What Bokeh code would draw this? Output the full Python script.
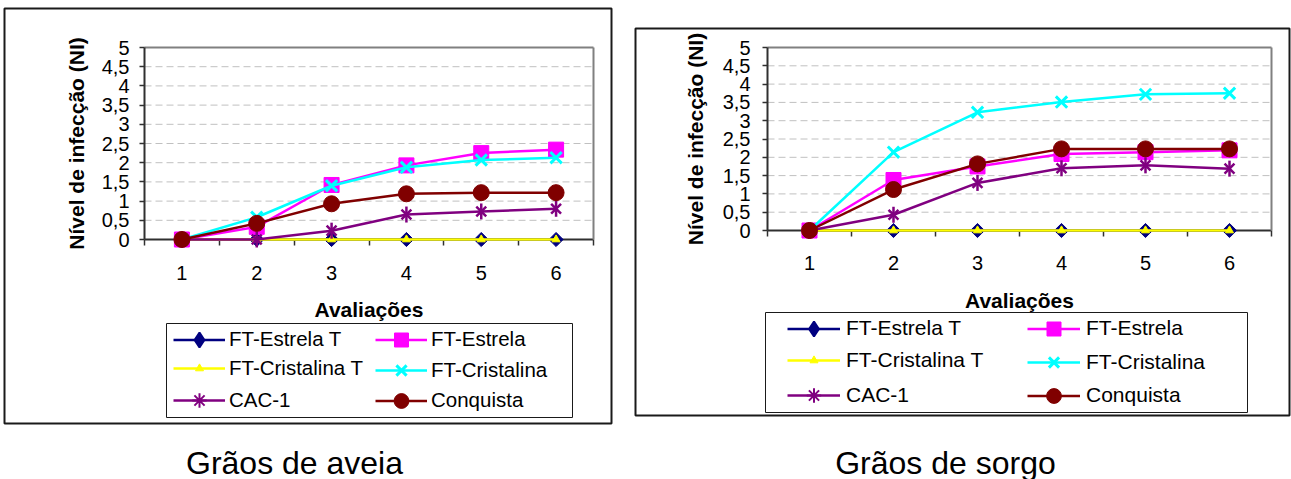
import math
from bokeh.plotting import figure
from bokeh.models import (Range1d, LinearAxis, FixedTicker, CustomJSTickFormatter,
                          Legend, LegendItem, Label, BoxAnnotation)
from bokeh.embed import file_html
from bokeh.resources import INLINE

# ---------------- data ----------------
avaliacoes = [1, 2, 3, 4, 5, 6]
x_tick_labels = ["1", "2", "3", "4", "5", "6"]
y_ticks = [0, 0.5, 1, 1.5, 2, 2.5, 3, 3.5, 4, 4.5, 5]
y_tick_labels = ["0", "0,5", "1", "1,5", "2", "2,5", "3", "3,5", "4", "4,5", "5"]

series_names = ["FT-Estrela T", "FT-Estrela", "FT-Cristalina T",
                "FT-Cristalina", "CAC-1", "Conquista"]

aveia_ft_estrela_t = [0, 0, 0, 0, 0, 0]
aveia_ft_estrela = [0, 0.33, 1.42, 1.93, 2.25, 2.34]
aveia_ft_cristalina_t = [0, 0, 0, 0, 0, 0]
aveia_ft_cristalina = [0, 0.58, 1.40, 1.88, 2.07, 2.13]
aveia_cac1 = [0, 0, 0.23, 0.65, 0.73, 0.80]
aveia_conquista = [0, 0.42, 0.93, 1.19, 1.22, 1.22]

sorgo_ft_estrela_t = [0, 0, 0, 0, 0, 0]
sorgo_ft_estrela = [0, 1.38, 1.75, 2.09, 2.14, 2.19]
sorgo_ft_cristalina_t = [0, 0, 0, 0, 0, 0]
sorgo_ft_cristalina = [0, 2.14, 3.23, 3.51, 3.72, 3.75]
sorgo_cac1 = [0, 0.43, 1.30, 1.70, 1.78, 1.69]
sorgo_conquista = [0, 1.12, 1.82, 2.23, 2.23, 2.23]

y_title = "Nível de infecção (NI)"
x_title = "Avaliações"
caption_aveia = "Grãos de aveia"
caption_sorgo = "Grãos de sorgo"

# ---------------- styles / layout ----------------
W, H = 1291, 479
FONT = "Liberation Sans"
AX = "#303030"
BORDER = "#808080"
BOXC = "#1a1a1a"
X_LO, X_HI = 0.5, 6.5
Y_LO, Y_HI = 0, 5

# colour, plot markers (marker, size, angle, line width), legend marker override
STYLE = {
    "FT-Estrela T": ("#000080", [("square", 10, math.pi / 4, 1)], "diamond"),
    "FT-Estrela": ("#FF00FF", [("square", 15, 0, 1)], None),
    "FT-Cristalina T": ("#FFFF00", [("triangle", 8, 0, 1)], None),
    "FT-Cristalina": ("#00FFFF", [("x", 16, 0, 3)], None),
    "CAC-1": ("#800080", [("x", 14, 0, 2.5), ("dash", 16, math.pi / 2, 2.5)], "asterisk"),
    "Conquista": ("#800000", [("circle", 16, 0, 1)], None),
}
# legend glyph box height (marker drawn at 0.4 of it)
LEG_G = {"FT-Estrela T": 37, "FT-Estrela": 35, "FT-Cristalina T": 20,
         "FT-Cristalina": 36, "CAC-1": 36, "Conquista": 37}


def lin_range(v0, px0, v1, px1, total):
    s = (v1 - v0) / (px1 - px0)
    return Range1d(v0 - px0 * s, v0 + (total - px0) * s)


def fmt(tvals, tlabels):
    return CustomJSTickFormatter(
        args=dict(tvals=tvals, tlabels=tlabels),
        code="const i = tvals.indexOf(tick); return i >= 0 ? tlabels[i] : '';")


# plot-area geometry (canvas pixels): left, right, top, y=0 line
GEOM_L = (144, 593, 47, 239)
GEOM_R = (767, 1271, 47, 230)

p = figure(width=W, height=H,
           x_range=lin_range(X_LO, GEOM_L[0], X_HI, GEOM_L[1], W),
           y_range=lin_range(Y_LO, H - GEOM_L[3], Y_HI, H - GEOM_L[2], H),
           x_axis_location=None, y_axis_location=None,
           min_border=0, min_border_left=0, min_border_right=0,
           min_border_top=0, min_border_bottom=0,
           toolbar_location=None, output_backend="svg",
           outline_line_color=None,
           background_fill_color="white", border_fill_color="white")
p.extra_x_ranges = {"rx": lin_range(X_LO, GEOM_R[0], X_HI, GEOM_R[1], W)}
p.extra_y_ranges = {"ry": lin_range(Y_LO, H - GEOM_R[3], Y_HI, H - GEOM_R[2], H)}
p.xgrid.visible = False
p.ygrid.visible = False


def canvas_box(b, width):
    return BoxAnnotation(left=b[0], right=b[1], top=b[2], bottom=b[3],
                         left_units="canvas", right_units="canvas",
                         top_units="canvas", bottom_units="canvas",
                         fill_alpha=0, line_color=BOXC, line_alpha=1,
                         line_width=width)


def panel(xn, yn, values, cfg):
    rn = dict(x_range_name=xn, y_range_name=yn)

    # dashed horizontal gridlines inside the plot area
    gy = [t for t in y_ticks if Y_LO < t < Y_HI]
    p.segment(x0=[X_LO] * len(gy), y0=gy, x1=[X_HI] * len(gy), y1=gy,
              line_color="#C0C0C0", line_dash="7 4", line_width=1,
              level="underlay", **rn)

    # x axis on the 0 line
    xa = LinearAxis(fixed_location=0, bounds=(X_LO, X_HI), **rn)
    xa.ticker = FixedTicker(ticks=avaliacoes,
                            minor_ticks=[X_LO + i for i in range(7)])
    xa.formatter = fmt(avaliacoes, x_tick_labels)
    xa.major_tick_out = 0
    xa.major_tick_in = 0
    xa.minor_tick_out = 6
    xa.minor_tick_in = 0
    xa.minor_tick_line_color = AX
    xa.minor_tick_line_width = 1.5
    xa.axis_line_color = AX
    xa.axis_line_width = 2
    xa.major_label_text_font = FONT
    xa.major_label_text_font_size = "20px"
    xa.major_label_text_color = "black"
    xa.major_label_standoff = cfg["x_standoff"]
    xa.axis_label = x_title
    xa.axis_label_text_font = FONT
    xa.axis_label_text_font_size = "21px"
    xa.axis_label_text_font_style = "bold"
    xa.axis_label_text_color = "black"
    xa.axis_label_standoff = cfg["x_title_standoff"]
    p.add_layout(xa, "below")

    ya = LinearAxis(fixed_location=X_LO, bounds=(Y_LO, Y_HI), **rn)
    ya.ticker = FixedTicker(ticks=y_ticks, minor_ticks=[])
    ya.formatter = fmt(y_ticks, y_tick_labels)
    ya.major_tick_out = 5
    ya.major_tick_in = 0
    ya.major_tick_line_color = AX
    ya.major_tick_line_width = 1.5
    ya.minor_tick_line_color = None
    ya.axis_line_color = AX
    ya.axis_line_width = 2
    ya.major_label_text_font = FONT
    ya.major_label_text_font_size = "20px"
    ya.major_label_text_color = "black"
    ya.major_label_standoff = cfg["y_standoff"]
    ya.axis_label = y_title
    ya.axis_label_text_font = FONT
    ya.axis_label_text_font_size = "21px"
    ya.axis_label_text_font_style = "bold"
    ya.axis_label_text_color = "black"
    ya.axis_label_standoff = cfg["y_title_standoff"]
    p.add_layout(ya, "left")

    # gray top and right border of the plot area
    top = LinearAxis(fixed_location=Y_HI, bounds=(X_LO, X_HI),
                     ticker=FixedTicker(ticks=[]), axis_line_color=BORDER,
                     axis_line_width=2, major_tick_line_color=None,
                     minor_tick_line_color=None, **rn)
    p.add_layout(top, "above")
    rgt = LinearAxis(fixed_location=X_HI, bounds=(Y_LO, Y_HI),
                     ticker=FixedTicker(ticks=[]), axis_line_color=BORDER,
                     axis_line_width=2, major_tick_line_color=None,
                     minor_tick_line_color=None, **rn)
    p.add_layout(rgt, "right")

    items = []
    for name, vals in zip(series_names, values):
        color, markers, leg_marker = STYLE[name]
        line_r = p.line(avaliacoes, vals, line_color=color, line_width=2.5,
                        level="overlay", **rn)
        mark_rs = []
        for mk, sz, ang, lw in markers:
            mark_rs.append(p.scatter(avaliacoes, vals, marker=mk, size=sz, angle=ang,
                                     fill_color=color, line_color=color, line_width=lw,
                                     level="overlay", **rn))
        if leg_marker is not None:
            # legend-only symbol (no visible point on the plot)
            proxy = p.scatter([math.nan], [math.nan], marker=leg_marker,
                              fill_color=color, line_color=color, line_width=2, **rn)
            items.append(LegendItem(label=name, renderers=[line_r, proxy]))
        else:
            items.append(LegendItem(label=name, renderers=[line_r] + mark_rs))

    p.add_layout(canvas_box(cfg["outer_box"], 2))
    p.add_layout(canvas_box(cfg["legend_box"], 1))

    for k, item in enumerate(items):
        col, rowi = k % 2, k // 2
        g = LEG_G[series_names[k]]
        cy = cfg["legend_rows"][rowi]
        leg = Legend(items=[item],
                     location=(cfg["legend_cols"][col], H - (cy + g / 2.0)),
                     orientation="vertical",
                     glyph_width=cfg["glyph_w"], glyph_height=g,
                     label_height=g, spacing=0, padding=0, margin=0,
                     border_line_color=None, background_fill_alpha=0,
                     label_standoff=cfg["standoff"],
                     label_text_font=FONT, label_text_font_size=cfg["legend_font"],
                     label_text_color="black")
        p.add_layout(leg)

    p.add_layout(Label(x=cfg["caption_x"], y=462, x_units="canvas", y_units="canvas",
                       text=cfg["caption"], text_align="center", text_baseline="middle",
                       text_font=FONT, text_font_size="32px", text_color="black"))


panel("default", "default",
      [aveia_ft_estrela_t, aveia_ft_estrela, aveia_ft_cristalina_t,
       aveia_ft_cristalina, aveia_cac1, aveia_conquista],
      dict(x_standoff=20, x_title_standoff=15, y_standoff=10, y_title_standoff=11,
           outer_box=(4, 611, 8, 423), legend_box=(166, 572, 323, 417),
           legend_cols=(173, 375), legend_rows=(339, 370, 400), glyph_w=52,
           standoff=4, legend_font="20.5px",
           caption=caption_aveia, caption_x=294))

panel("rx", "ry",
      [sorgo_ft_estrela_t, sorgo_ft_estrela, sorgo_ft_cristalina_t,
       sorgo_ft_cristalina, sorgo_cac1, sorgo_conquista],
      dict(x_standoff=19, x_title_standoff=16, y_standoff=12, y_title_standoff=13,
           outer_box=(635, 1289, 28, 415), legend_box=(765, 1247, 312, 412),
           legend_cols=(787, 1027), legend_rows=(328, 362, 395), glyph_w=53,
           standoff=6, legend_font="21px",
           caption=caption_sorgo, caption_x=945))

open("out.html", "w").write(file_html(p, INLINE))
